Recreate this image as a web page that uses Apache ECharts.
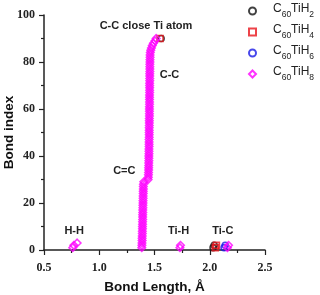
<!DOCTYPE html>
<html><head><meta charset="utf-8">
<script src="https://cdn.jsdelivr.net/npm/echarts@6/dist/echarts.min.js"></script>
<style>html,body{margin:0;padding:0;background:#fff}#c{width:320px;height:295px}</style>
</head><body><div id="c"></div>
<script>
// Series names
const seriesNames = ['C60TiH2', 'C60TiH4', 'C60TiH6', 'C60TiH8'];
// Axis ticks
const xTicks = [0.5, 1.0, 1.5, 2.0, 2.5];
const yTicks = [0, 20, 40, 60, 80, 100];

// C60TiH8: sorted C-C bond lengths (bond index = rank 1..90)
const ccLenTiH8 = [
  1.385,1.386,1.387,1.388,1.388,1.389,1.390,1.390,1.391,1.391,
  1.392,1.392,1.393,1.393,1.393,1.394,1.394,1.395,1.395,1.396,
  1.396,1.397,1.397,1.398,1.398,1.399,1.399,1.400,1.403,
  1.442,1.444,1.445,1.446,1.447,1.447,1.448,1.448,1.449,1.449,
  1.449,1.450,1.450,1.450,1.451,1.451,1.451,1.451,1.452,1.452,
  1.452,1.452,1.452,1.453,1.453,1.453,1.453,1.454,1.454,1.454,
  1.454,1.454,1.455,1.455,1.455,1.455,1.455,1.456,1.456,1.456,
  1.456,1.456,1.457,1.457,1.457,1.457,1.458,1.458,1.458,1.458,
  1.459,1.459,1.460,1.460,
  1.462,1.466,1.472,1.480,1.490,1.505,1.515
];
// H-H bonds (length, index) for C60TiH8
const hhLenTiH8 = [0.76, 0.77, 0.80];
const hhIdxTiH8 = [1, 2, 3];
// Ti-H bonds
const tihLenTiH8 = [1.73, 1.735];
const tihIdxTiH8 = [1, 2];
// Ti-C bonds per series
const ticLenTiH2 = [2.03, 2.04];
const ticLenTiH4 = [2.05, 2.06];
const ticLenTiH6 = [2.13, 2.14];
const ticLenTiH8 = [2.16, 2.17];
const ticIdx = [1, 2];
// Longest C-C bonds (close to Ti) visible for other series
const ccTopLenTiH2 = [1.56];
const ccTopLenTiH4 = [1.55];
const ccTopIdx = [90];

// Annotation labels [text, x, y] in data units
const annotations = [
  ['C-C close Ti atom', 1.423, 95.5],
  ['C-C', 1.636, 74.5],
  ['C=C', 1.227, 33.7],
  ['H-H', 0.773, 8.0],
  ['Ti-H', 1.718, 8.0],
  ['Ti-C', 2.118, 8.0]
];

function pairs(xs, ys) { return xs.map((v, i) => [v, ys[i]]); }
function ranked(xs) { return xs.map((v, i) => [v, i + 1]); }

const dataTiH2 = pairs(ticLenTiH2, ticIdx).concat(pairs(ccTopLenTiH2, ccTopIdx));
const dataTiH4 = pairs(ticLenTiH4, ticIdx).concat(pairs(ccTopLenTiH4, ccTopIdx));
const dataTiH6 = pairs(ticLenTiH6, ticIdx);
const dataTiH8 = ranked(ccLenTiH8)
  .concat(pairs(hhLenTiH8, hhIdxTiH8))
  .concat(pairs(tihLenTiH8, tihIdxTiH8))
  .concat(pairs(ticLenTiH8, ticIdx));

const colors = ['#111111', '#e8141c', '#1a1ae6', '#ff00ff'];
const symbols = ['circle', 'rect', 'circle', 'diamond'];
const sizes = [6, 6, 6, 7.5];
const datas = [dataTiH2, dataTiH4, dataTiH6, dataTiH8];

const chart = echarts.init(document.getElementById('c'), null, {renderer: 'canvas'});
const axisCol = '#222';
const tickFont = {fontFamily: 'Liberation Serif', fontWeight: 'bold', fontSize: 12, color: '#222'};
const nameFont = {fontFamily: 'Liberation Sans', fontWeight: 'bold', fontSize: 13.5, color: '#111'};

chart.setOption({
  animation: false,
  backgroundColor: '#fff',
  grid: {left: 44, right: 55, top: 15, bottom: 45, outerBoundsMode: 'none', containLabel: false},
  legend: {
    orient: 'vertical', left: 248, top: 3, padding: 0,
    itemWidth: 7, itemHeight: 7, itemGap: 5,
    data: seriesNames,
    formatter: function (n) {
      return '{g|}{n|C}{s|60}{n|TiH}{s|' + n.slice(-1) + '}';
    },
    textStyle: {
      color: '#222',
      rich: {
        g: {width: 12},
        n: {fontFamily: 'Liberation Sans', fontSize: 12, color: '#222', lineHeight: 16, verticalAlign: 'top'},
        s: {fontFamily: 'Liberation Sans', fontSize: 8.5, color: '#222', lineHeight: 16, verticalAlign: 'bottom', padding: [6, 0, 0, 0]}
      }
    }
  },
  xAxis: {
    type: 'value', min: 0.5, max: 2.5, interval: 0.5,
    name: 'Bond Length, Å', nameLocation: 'middle', nameGap: 30, nameMoveOverlap: false, nameTextStyle: nameFont,
    axisLine: {show: true, onZero: false, lineStyle: {color: axisCol, width: 1.5}},
    axisTick: {show: true, length: 5, lineStyle: {color: axisCol, width: 1.2}},
    minorTick: {show: true, splitNumber: 2, length: 3, lineStyle: {color: axisCol, width: 1.2}},
    splitLine: {show: false},
    axisLabel: Object.assign({margin: 12, formatter: v => v.toFixed(1)}, tickFont)
  },
  yAxis: {
    type: 'value', min: 0, max: 100, interval: 20,
    name: 'Bond index', nameLocation: 'middle', nameGap: 28, nameMoveOverlap: false, nameRotate: 90, nameTextStyle: nameFont,
    axisLine: {show: true, onZero: false, lineStyle: {color: axisCol, width: 1.5}},
    axisTick: {show: true, length: 5, lineStyle: {color: axisCol, width: 1.2}},
    minorTick: {show: true, splitNumber: 2, length: 3, lineStyle: {color: axisCol, width: 1.2}},
    splitLine: {show: false},
    axisLabel: Object.assign({margin: 9}, tickFont)
  },
  series: seriesNames.map((n, i) => ({
    name: n, type: 'scatter', symbol: symbols[i], symbolSize: sizes[i],
    data: datas[i],
    itemStyle: {color: 'rgba(255,255,255,0)', borderColor: colors[i], borderWidth: 1.6},
    emphasis: {disabled: true}
  }))
});

const g = annotations.map(a => {
  const p = chart.convertToPixel({gridIndex: 0}, [a[1], a[2]]);
  return {
    type: 'text', x: p[0], y: p[1], silent: true,
    style: {text: a[0], font: 'bold 11px "Liberation Sans"', fill: '#222', align: 'center', verticalAlign: 'middle'}
  };
});
chart.setOption({graphic: g});
</script></body></html>
